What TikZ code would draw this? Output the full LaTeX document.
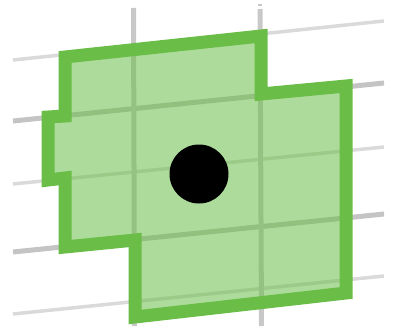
\documentclass[tikz,border=0pt]{standalone}
\begin{document}
\begin{tikzpicture}[x=1pt,y=-1pt,
  gridthin/.style={draw={rgb,255:red,218;green,218;blue,218},line width=3.5pt},
  gridthick/.style={draw={rgb,255:red,196;green,196;blue,196},line width=5pt},
  gridvert/.style={draw={rgb,255:red,200;green,200;blue,200},line width=5pt},
  region/.style={draw={rgb,255:red,106;green,190;blue,72},line width=13pt,miter limit=10,
    fill={rgb,255:red,106;green,190;blue,72},fill opacity=0.55},
  dot/.style={fill=black}]
\useasboundingbox (0,0) rectangle (395,326);
% horizontal grid lines
\draw[gridthin]  (13,60)  -- (384,21);
\draw[gridthick] (13,121) -- (384,83);
\draw[gridthin]  (13,184) -- (384,147);
\draw[gridthick] (13,252) -- (384,214);
\draw[gridthin]  (13,314) -- (384,276);
% vertical grid lines
\draw[gridvert] (133.5,8) -- (134.5,326);
\draw[gridvert] (260,9) -- (261.5,326);
\draw[gridvert,line width=4pt] (260,4) -- (260,6.5);
% region
\draw[region] (65,57) -- (261,36) -- (261,94) -- (346,86) -- (346,293)
  -- (135,317) -- (135,240) -- (65,247) -- (65,178) -- (48,180)
  -- (48,117) -- (65,116) -- cycle;
% dot
\fill[dot] (199,174) circle (29.5);
\end{tikzpicture}
\end{document}
